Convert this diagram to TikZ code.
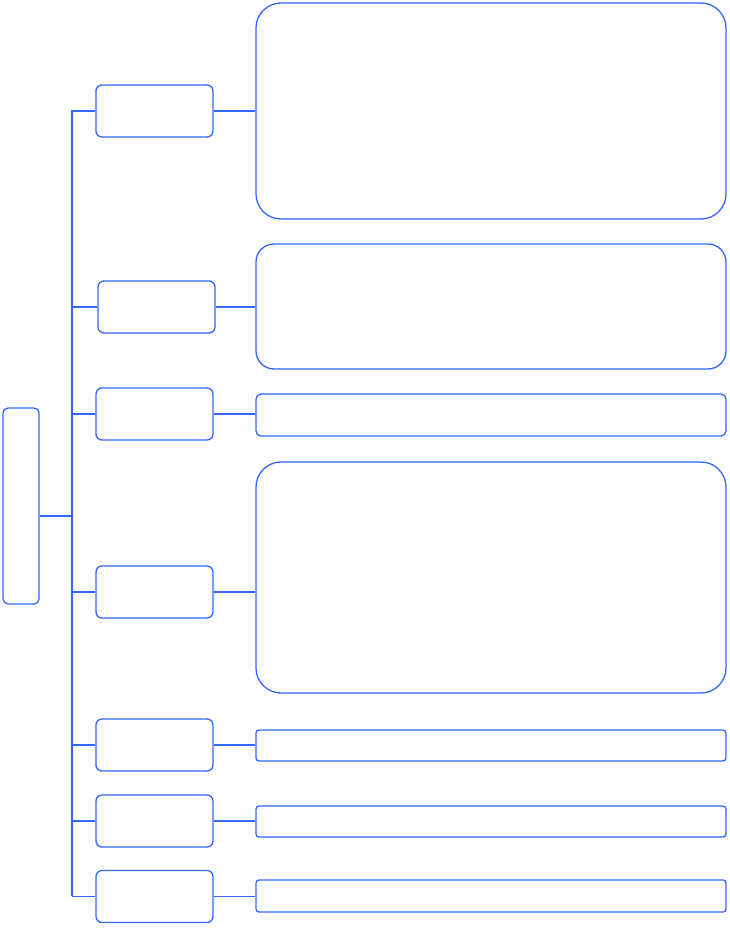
\documentclass[tikz,border=0pt]{standalone}
\usepackage{tikz}
\definecolor{boxblue}{HTML}{3366FF}

\begin{document}
\begin{tikzpicture}[x=1pt,y=-1pt,
  line width=1.3pt,
  box/.style={draw=boxblue,rectangle,inner sep=0pt,line width=1.3pt},
  catbox/.style={box,minimum width=117pt,minimum height=52pt,rounded corners=6pt},
  wide/.style={box,minimum width=470pt}]
\useasboundingbox (0,0) rectangle (729,928);
%корень
\node [box,minimum width=36pt,minimum height=196pt,rounded corners=5pt] (root) at (21,506) {};
%ствол
\coordinate (trunktop) at (72,110);
\coordinate (trunkbot) at (72,896);
\draw [boxblue] (trunktop)--(trunkbot);
\coordinate (rootjoin) at ([yshift=-10pt]root.east);
\draw [boxblue] (rootjoin)--(rootjoin -| trunktop);
%левые блоки
\node [catbox] (cat1) at (154.5,111) {};
\node [catbox] (cat2) at (156.5,307) {};
\node [catbox] (cat3) at (154.5,414) {};
\node [catbox] (cat4) at (154.5,592) {};
\node [catbox] (cat5) at (154.5,745) {};
\node [catbox] (cat6) at (154.5,821) {};
\node [catbox] (cat7) at (154.5,896.5) {};
%правые блоки
\node [wide,minimum height=216pt,rounded corners=25pt] (desc1) at (491,111) {};
\node [wide,minimum height=125pt,rounded corners=18pt] (desc2) at (491,306.5) {};
\node [wide,minimum height=42pt,rounded corners=5pt] (desc3) at (491,415) {};
\node [wide,minimum height=231pt,rounded corners=25pt] (desc4) at (491,577.5) {};
\node [wide,minimum height=31pt,rounded corners=3pt] (desc5) at (491,745.5) {};
\node [wide,minimum height=31pt,rounded corners=3pt] (desc6) at (491,821.5) {};
\node [wide,minimum height=32pt,rounded corners=3pt] (desc7) at (491,896) {};
%соединения
\draw [boxblue] (cat1.west)--(cat1.west -| trunktop);
\draw [boxblue] (cat2.west)--(cat2.west -| trunktop);
\draw [boxblue] (cat3.west)--(cat3.west -| trunktop);
\draw [boxblue] (cat4.west)--(cat4.west -| trunktop);
\draw [boxblue] (cat5.west)--(cat5.west -| trunktop);
\draw [boxblue] (cat6.west)--(cat6.west -| trunktop);
\draw [boxblue] (cat7.west)--(cat7.west -| trunktop);
\draw [boxblue] (cat1.east)--(cat1.east -| desc1.west);
\draw [boxblue] (cat2.east)--(cat2.east -| desc2.west);
\draw [boxblue] (cat3.east)--(cat3.east -| desc3.west);
\draw [boxblue] (cat4.east)--(cat4.east -| desc4.west);
\draw [boxblue] (cat5.east)--(cat5.east -| desc5.west);
\draw [boxblue] (cat6.east)--(cat6.east -| desc6.west);
\draw [boxblue] (cat7.east)--(cat7.east -| desc7.west);
\end{tikzpicture}
\end{document}
